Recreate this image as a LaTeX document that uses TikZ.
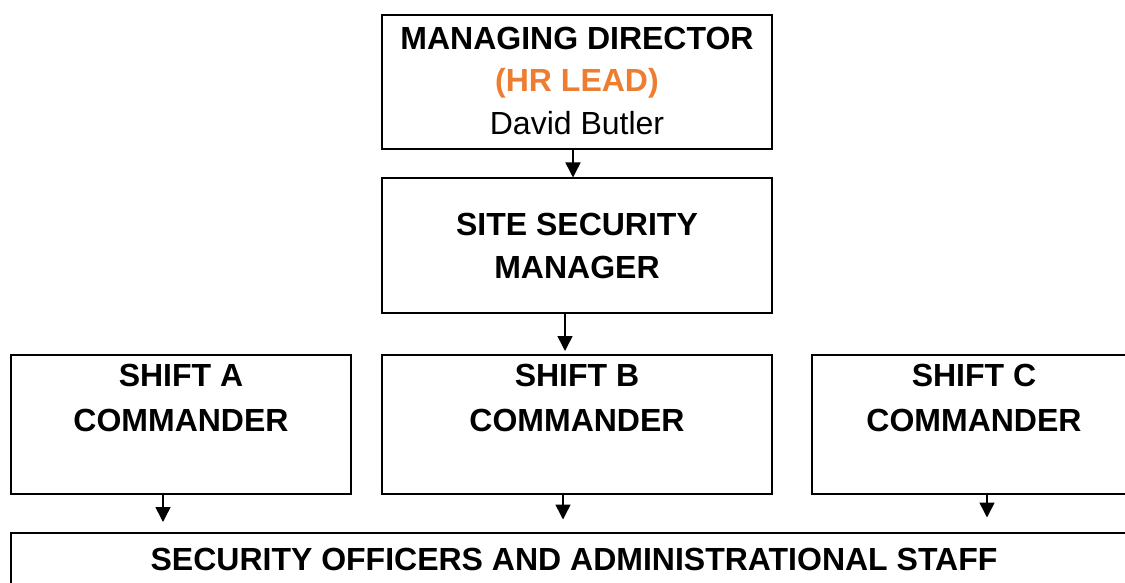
\documentclass[tikz,border=0pt]{standalone}
\usepackage{fontspec}
\setmainfont{Liberation Sans}
\usetikzlibrary{arrows.meta}
\definecolor{hrorange}{RGB}{237,125,49}
\begin{document}
\begin{tikzpicture}[x=1pt,y=-1pt,
  box/.style={draw=black,line width=2pt,rectangle,inner sep=0pt},
  lbl/.style={anchor=base,inner sep=0pt,font=\fontsize{32}{38}\selectfont\bfseries},
  plain/.style={anchor=base,inner sep=0pt,font=\fontsize{32}{38}\selectfont},
  link/.style={line width=1.5pt,-{Triangle[width=15pt,length=15pt]}}]
\useasboundingbox (0,0) rectangle (1125,583);
\clip (0,0) rectangle (1125,583);

% boxes
\node[box,minimum width=390.5pt,minimum height=134pt] (md) at (576.75,82.5) {};
\node[box,minimum width=390pt,minimum height=134pt] (ssm) at (577,245.5) {};
\node[box,minimum width=340pt,minimum height=139pt] (sa) at (181,424.5) {};
\node[box,minimum width=390pt,minimum height=139pt] (sb) at (577,424.5) {};
\node[box,minimum width=324pt,minimum height=139pt] (sc) at (974,424.5) {};
\node[box,minimum width=1126pt,minimum height=70pt] (staff) at (574,567.5) {};

% texts
\node[lbl] (mdt1) at (577,50) {MANAGING DIRECTOR};
\node[lbl,text=hrorange] (mdt2) at (577,92) {(HR LEAD)};
\node[plain] (mdt3) at (577,135) {David Butler};
\node[lbl] (ssmt1) at (577,235) {SITE SECURITY};
\node[lbl] (ssmt2) at (577,278) {MANAGER};
\node[lbl] (sat1) at (181,386) {SHIFT A};
\node[lbl] (sat2) at (181,431) {COMMANDER};
\node[lbl] (sbt1) at (577,386) {SHIFT B};
\node[lbl] (sbt2) at (577,431) {COMMANDER};
\node[lbl] (sct1) at (974,386) {SHIFT C};
\node[lbl] (sct2) at (974,431) {COMMANDER};
\node[lbl] (stafft) at (574,570) {SECURITY OFFICERS AND ADMINISTRATIONAL STAFF};

% start points of the reporting lines
\coordinate (mdout) at ([xshift=-3.75pt]md.south);
\coordinate (ssmout) at ([xshift=-12pt]ssm.south);
\coordinate (saout) at ([xshift=-18pt]sa.south);
\coordinate (sbout) at ([xshift=-14pt]sb.south);
\coordinate (scout) at ([xshift=13pt]sc.south);

% reporting lines
\draw[link] (mdout) -- (mdout |- ssm.north);
\draw[link,shorten >=3pt] (ssmout) -- (ssmout |- sb.north);
\draw[link,shorten >=9.5pt] (saout) -- (saout |- staff.north);
\draw[link,shorten >=12pt] (sbout) -- (sbout |- staff.north);
\draw[link,shorten >=14pt] (scout) -- (scout |- staff.north);
\end{tikzpicture}
\end{document}
